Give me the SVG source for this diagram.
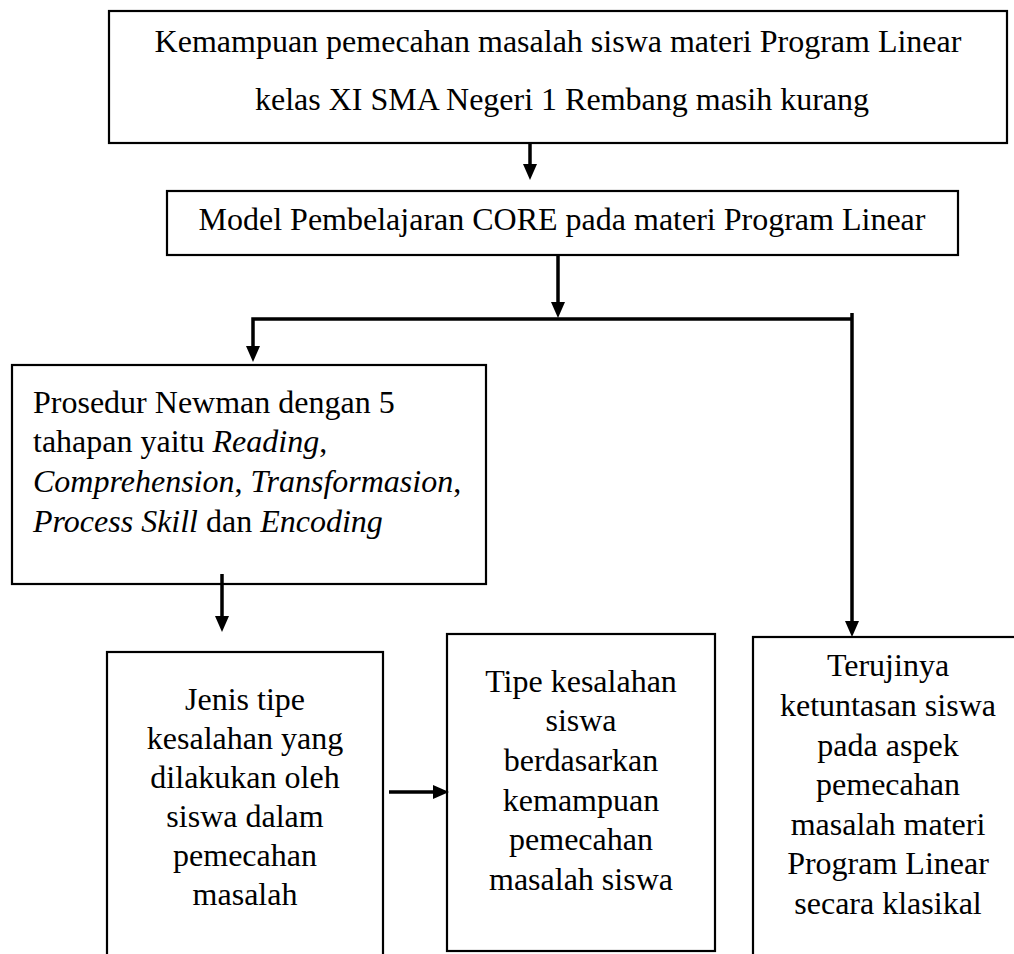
<svg xmlns="http://www.w3.org/2000/svg" width="1014" height="954" viewBox="0 0 1014 954">
<style>
.box{fill:#fff;stroke:#000;stroke-width:2.2}
.t{font-family:"Liberation Serif","Times New Roman",serif;font-size:32px;fill:#000}
.c{text-anchor:middle}
.i{font-style:italic}
.ln{stroke:#000;stroke-width:3.5;fill:none;stroke-linejoin:miter}
</style>
<defs>
<marker id="ah" viewBox="0 0 16 14" markerWidth="16" markerHeight="14" refX="2" refY="7" orient="auto" markerUnits="userSpaceOnUse">
<path d="M0,0 L16,7 L0,14 z" fill="#000"/>
</marker>
</defs>
<rect width="1014" height="954" fill="#fff"/>
<g id="n1">
<rect class="box" x="109" y="11" width="898" height="132"/>
<text class="t c" x="558" y="52">Kemampuan pemecahan masalah siswa materi Program Linear</text>
<text class="t c" x="562" y="110">kelas XI SMA Negeri 1 Rembang masih kurang</text>
</g>
<g id="n2">
<rect class="box" x="167" y="191" width="791" height="64"/>
<text class="t c" x="562" y="230">Model Pembelajaran CORE pada materi Program Linear</text>
</g>
<g id="n3">
<rect class="box" x="12" y="365" width="474" height="219"/>
<text class="t" x="33" y="413">Prosedur Newman dengan 5</text>
<text class="t" x="33" y="452">tahapan yaitu <tspan class="i">Reading</tspan>,</text>
<text class="t" x="33" y="492"><tspan class="i">Comprehension</tspan>, <tspan class="i">Transformasion</tspan>,</text>
<text class="t" x="33" y="532"><tspan class="i">Process Skill</tspan> dan <tspan class="i">Encoding</tspan></text>
</g>
<g id="n4">
<rect class="box" x="107" y="652" width="276" height="320"/>
<text class="t c" x="245" y="710">Jenis tipe</text>
<text class="t c" x="245" y="749">kesalahan yang</text>
<text class="t c" x="245" y="788">dilakukan oleh</text>
<text class="t c" x="245" y="827">siswa dalam</text>
<text class="t c" x="245" y="866">pemecahan</text>
<text class="t c" x="245" y="905">masalah</text>
</g>
<g id="n5">
<rect class="box" x="447" y="634" width="268" height="317"/>
<text class="t c" x="581" y="692">Tipe kesalahan</text>
<text class="t c" x="581" y="731">siswa</text>
<text class="t c" x="581" y="771">berdasarkan</text>
<text class="t c" x="581" y="811">kemampuan</text>
<text class="t c" x="581" y="850">pemecahan</text>
<text class="t c" x="581" y="890">masalah siswa</text>
</g>
<g id="n6">
<rect class="box" x="753" y="637" width="290" height="340"/>
<text class="t c" x="888" y="676">Terujinya</text>
<text class="t c" x="888" y="716">ketuntasan siswa</text>
<text class="t c" x="888" y="756">pada aspek</text>
<text class="t c" x="888" y="795">pemecahan</text>
<text class="t c" x="888" y="835">masalah materi</text>
<text class="t c" x="888" y="874">Program Linear</text>
<text class="t c" x="888" y="914">secara klasikal</text>
</g>
<g id="connectors">
<line class="ln" x1="530" y1="143" x2="530" y2="166" marker-end="url(#ah)"/>
<line class="ln" x1="558" y1="256" x2="558" y2="304" marker-end="url(#ah)"/>
<path class="ln" d="M852,319 L253,319 L253,348" marker-end="url(#ah)"/>
<line class="ln" x1="852" y1="313" x2="852" y2="623" marker-end="url(#ah)"/>
<line class="ln" x1="222" y1="574" x2="222" y2="618" marker-end="url(#ah)"/>
<line class="ln" x1="389" y1="792" x2="435" y2="792" marker-end="url(#ah)"/>
</g>
</svg>
